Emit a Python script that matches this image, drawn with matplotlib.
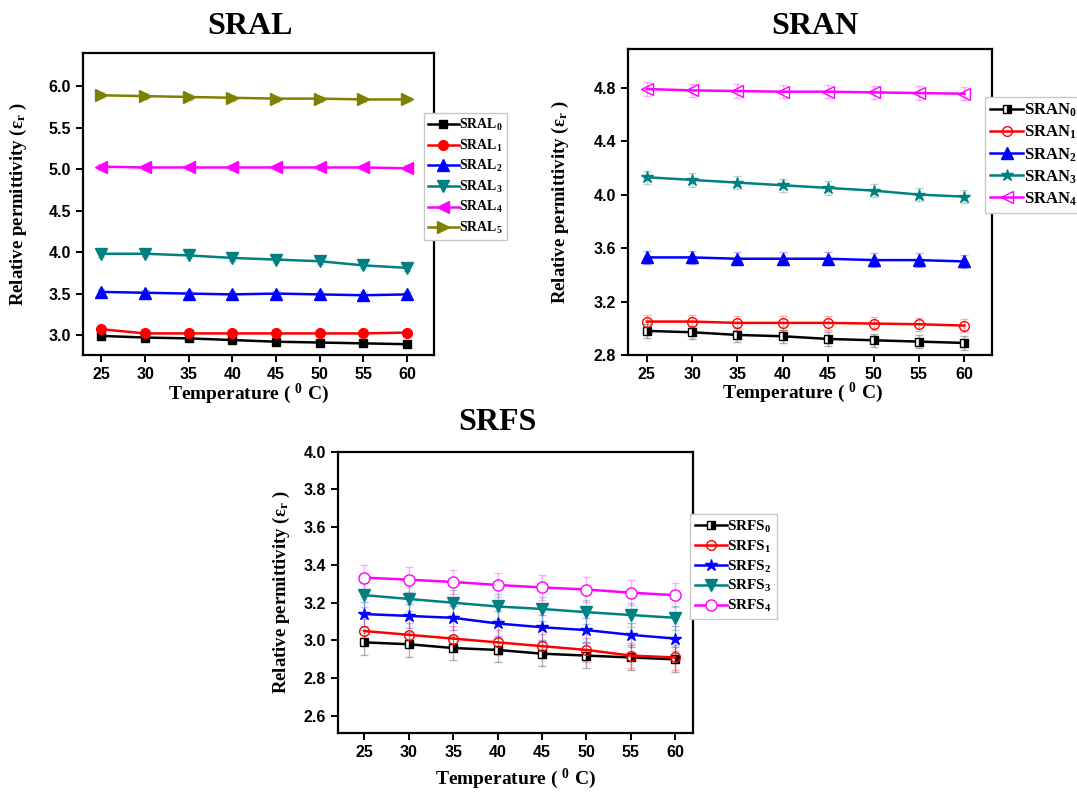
import matplotlib
matplotlib.use("Agg")
import matplotlib.pyplot as plt

plt.rcParams["mathtext.fontset"] = "custom"
plt.rcParams["mathtext.rm"] = "Liberation Serif:bold"
plt.rcParams["mathtext.it"] = "Liberation Serif:bold"
plt.rcParams["mathtext.bf"] = "Liberation Serif:bold"

temps = [25, 30, 35, 40, 45, 50, 55, 60]

# SRAL series
sral_0 = [2.99, 2.97, 2.96, 2.94, 2.92, 2.91, 2.90, 2.89]
sral_1 = [3.07, 3.02, 3.02, 3.02, 3.02, 3.02, 3.02, 3.03]
sral_2 = [3.52, 3.51, 3.50, 3.49, 3.50, 3.49, 3.48, 3.49]
sral_3 = [3.98, 3.98, 3.96, 3.93, 3.91, 3.89, 3.84, 3.81]
sral_4 = [5.03, 5.02, 5.02, 5.02, 5.02, 5.02, 5.02, 5.01]
sral_5 = [5.89, 5.88, 5.87, 5.86, 5.85, 5.85, 5.84, 5.84]
sral_err = 0.035

# SRAN series
sran_0 = [2.98, 2.97, 2.95, 2.94, 2.92, 2.91, 2.90, 2.89]
sran_1 = [3.05, 3.05, 3.04, 3.04, 3.04, 3.035, 3.03, 3.02]
sran_2 = [3.53, 3.53, 3.52, 3.52, 3.52, 3.51, 3.51, 3.50]
sran_3 = [4.13, 4.11, 4.09, 4.07, 4.05, 4.03, 4.00, 3.985]
sran_4 = [4.79, 4.78, 4.775, 4.77, 4.77, 4.765, 4.76, 4.755]
sran_err = 0.05

# SRFS series
srfs_0 = [2.99, 2.98, 2.96, 2.95, 2.93, 2.92, 2.91, 2.90]
srfs_1 = [3.05, 3.03, 3.01, 2.99, 2.97, 2.95, 2.92, 2.91]
srfs_2 = [3.14, 3.13, 3.12, 3.09, 3.07, 3.055, 3.03, 3.01]
srfs_3 = [3.24, 3.22, 3.20, 3.18, 3.167, 3.15, 3.135, 3.12]
srfs_4 = [3.333, 3.322, 3.31, 3.294, 3.281, 3.27, 3.253, 3.24]
srfs_err = 0.065

BLACK, RED, BLUE = "#000000", "#ff0000", "#0000ff"
TEAL, MAGENTA, OLIVE = "#008080", "#ff00ff", "#808000"

serif = "Liberation Serif"
sans = "Liberation Sans"

fig = plt.figure(figsize=(10.77, 7.92), dpi=100)


def style_axes(ax, xlim, ylim, yticks, ylab_x, xlab_x, xlab_y):
    ax.set_xlim(*xlim)
    ax.set_ylim(*ylim)
    ax.set_xticks(temps)
    ax.set_yticks(yticks)
    ax.set_yticklabels([f"{t:.1f}" for t in yticks])
    for sp in ax.spines.values():
        sp.set_linewidth(1.6)
    ax.tick_params(direction="out", length=5, width=1.4, top=False, right=False)
    for lab in ax.get_xticklabels() + ax.get_yticklabels():
        lab.set_fontfamily(sans)
        lab.set_fontweight("bold")
        lab.set_fontsize(11.5)
    ax.set_ylabel(r"Relative permittivity (ε$_{r}$ )", fontfamily=serif,
                  fontweight="bold", fontsize=13.5)
    ax.set_xlabel(r"Temperature ( $^{0}$ C)", fontfamily=serif,
                  fontweight="bold", fontsize=14)
    ax.yaxis.set_label_coords(ylab_x, 0.5)
    ax.xaxis.set_label_coords(xlab_x, xlab_y)


def plot_series(ax, y, err, color, marker, label, ms=7, face=None, fill="full"):
    ax.errorbar(temps, y, yerr=err, fmt="none", ecolor=color, alpha=0.3,
                elinewidth=1.0, capsize=3, capthick=1.0, zorder=1)
    kw = dict(color=color, marker=marker, markersize=ms, linewidth=1.8,
              label=label, markeredgecolor=color, zorder=3)
    if fill != "full":
        kw.update(fillstyle=fill, markerfacecolor=color,
                  markerfacecoloralt="white")
    elif face is not None:
        kw.update(markerfacecolor=face)
    ax.plot(temps, y, **kw)


def add_legend(ax, anchor, size, spacing, hlen):
    leg = ax.legend(loc="upper left", bbox_to_anchor=anchor,
                    bbox_transform=fig.transFigure, frameon=True,
                    fancybox=False, edgecolor="#c8c8c8", framealpha=1,
                    handlelength=hlen, handletextpad=0.05, labelspacing=spacing,
                    borderpad=0.3, borderaxespad=0,
                    prop={"family": serif, "weight": "bold", "size": size})
    leg.get_frame().set_linewidth(1.0)
    return leg


# ---- SRAL ----
ax1 = fig.add_axes([0.0771, 0.5518, 0.3259, 0.3813])
plot_series(ax1, sral_0, sral_err, BLACK, "s", r"SRAL$_{0}$", ms=6)
plot_series(ax1, sral_1, sral_err, RED, "o", r"SRAL$_{1}$")
plot_series(ax1, sral_2, sral_err, BLUE, "^", r"SRAL$_{2}$", ms=8)
plot_series(ax1, sral_3, sral_err, TEAL, "v", r"SRAL$_{3}$", ms=8)
plot_series(ax1, sral_4, sral_err, MAGENTA, "<", r"SRAL$_{4}$", ms=8)
plot_series(ax1, sral_5, sral_err, OLIVE, ">", r"SRAL$_{5}$", ms=8)
style_axes(ax1, (22.9, 63.1), (2.76, 6.40), [3.0, 3.5, 4.0, 4.5, 5.0, 5.5, 6.0],
           -0.154, 0.47, -0.09)
add_legend(ax1, (0.3937, 0.8573), 10, 0.32, 2.2)
fig.text(250 / 1077, 1 - 26 / 792, "SRAL", ha="center", va="center",
         fontfamily=serif, fontweight="bold", fontsize=23)

# ---- SRAN ----
ax2 = fig.add_axes([0.5831, 0.5518, 0.338, 0.3864])
plot_series(ax2, sran_0, sran_err, BLACK, "s", r"SRAN$_{0}$", ms=6, fill="right")
plot_series(ax2, sran_1, sran_err, RED, "o", r"SRAN$_{1}$", face="none")
plot_series(ax2, sran_2, sran_err, BLUE, "^", r"SRAN$_{2}$", ms=8)
plot_series(ax2, sran_3, sran_err, TEAL, "*", r"SRAN$_{3}$", ms=9)
plot_series(ax2, sran_4, sran_err, MAGENTA, "<", r"SRAN$_{4}$", ms=8, face="none")
style_axes(ax2, (22.94, 63.05), (2.8, 5.09), [2.8, 3.2, 3.6, 4.0, 4.4, 4.8],
           -0.156, 0.48, -0.085)
add_legend(ax2, (0.9146, 0.8775), 12, 0.28, 2.0)
fig.text(815 / 1077, 1 - 26 / 792, "SRAN", ha="center", va="center",
         fontfamily=serif, fontweight="bold", fontsize=23)

# ---- SRFS ----
ax3 = fig.add_axes([0.3136, 0.0745, 0.3299, 0.3552])
plot_series(ax3, srfs_0, srfs_err, BLACK, "s", r"SRFS$_{0}$", ms=6, fill="right")
plot_series(ax3, srfs_1, srfs_err, RED, "o", r"SRFS$_{1}$", face="none")
plot_series(ax3, srfs_2, srfs_err, BLUE, "*", r"SRFS$_{2}$", ms=9)
plot_series(ax3, srfs_3, srfs_err, TEAL, "v", r"SRFS$_{3}$", ms=8)
plot_series(ax3, srfs_4, srfs_err, MAGENTA, "o", r"SRFS$_{4}$", ms=8, face="white")
style_axes(ax3, (22.0, 62.0), (2.51, 4.0), [2.6, 2.8, 3.0, 3.2, 3.4, 3.6, 3.8, 4.0],
           -0.128, 0.499, -0.12)
add_legend(ax3, (0.6407, 0.351), 11, 0.25, 2.1)
fig.text(497 / 1077, 1 - 423 / 792, "SRFS", ha="center", va="center",
         fontfamily=serif, fontweight="bold", fontsize=23)

fig.savefig("out.png", dpi=100)
